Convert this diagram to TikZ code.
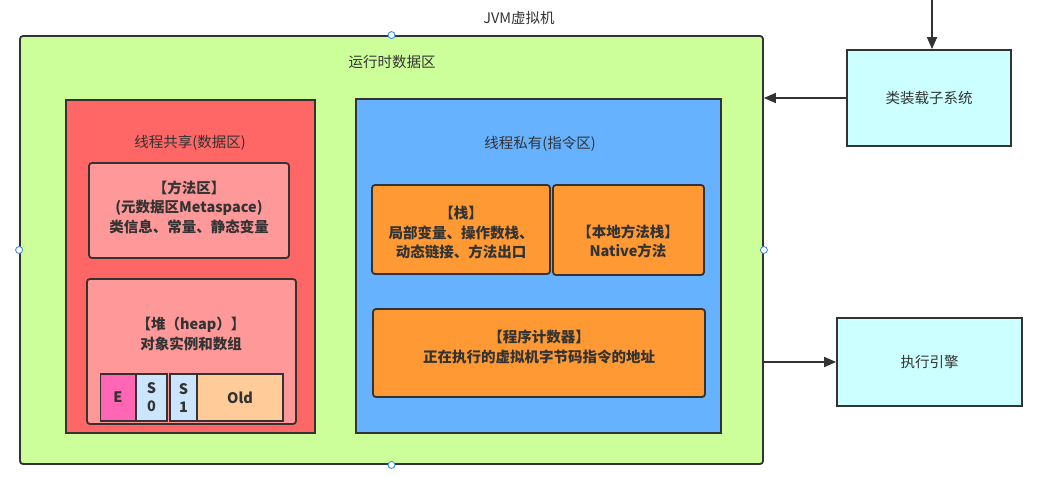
\documentclass[tikz,border=0pt]{standalone}
\usepackage{fontspec}
\setmainfont{Noto Sans CJK SC}
\usetikzlibrary{arrows.meta}
\definecolor{txt}{HTML}{333333}
\definecolor{edge}{HTML}{333333}
\definecolor{cgreen}{HTML}{CCFF99}
\definecolor{cred}{HTML}{FF6666}
\definecolor{clred}{HTML}{FF9999}
\definecolor{cblue}{HTML}{66B2FF}
\definecolor{corange}{HTML}{FF9933}
\definecolor{cpink}{HTML}{FF66B3}
\definecolor{csurv}{HTML}{CCE5FF}
\definecolor{cold}{HTML}{FFCC99}
\definecolor{ccyan}{HTML}{CCFFFF}
\definecolor{handle}{HTML}{3D8DDB}
\tikzset{
  box/.style={draw=edge, line width=1.8pt, rounded corners=3pt, inner sep=0pt},
  sqbox/.style={draw=edge, line width=1.8pt, inner sep=0pt},
  lbl/.style={text=txt, font=\fontsize{14.5}{19.5}\selectfont, align=center, inner sep=0pt},
  blbl/.style={lbl, font=\fontsize{14.5}{19.5}\selectfont\bfseries},
  conn/.style={draw=edge, line width=1.8pt, -{Triangle[length=12pt,width=10pt]}},
  hdl/.style={circle, draw=handle, fill=white, line width=0.9pt, minimum size=7pt, inner sep=0pt},
}
\begin{document}
\begin{tikzpicture}[x=1pt,y=-1pt]
\useasboundingbox (0,0) rectangle (1040,479);
\fill[white] (0,0) rectangle (1040,479);
% outer JVM
\node[lbl] (jvmt) at (519,18) {JVM虚拟机};
\node[box, fill=cgreen, minimum width=743pt, minimum height=428pt] (rt) at (391.5,250) {};
\node[lbl] (rtt) at (392,62) {运行时数据区};
% shared
\node[sqbox, fill=cred, minimum width=249pt, minimum height=333pt] (sh) at (190.5,266.5) {};
\node[lbl] (sht) at (190,143) {线程共享(数据区)};
\node[box, fill=clred, minimum width=200pt, minimum height=95pt] (ma) at (189,210.5) {};
\node[blbl] (mat) at (189,207) {【方法区】\\(元数据区Metaspace)\\类信息、常量、静态变量};
\node[box, fill=clred, minimum width=209pt, minimum height=145pt] (hp) at (191.5,351.5) {};
\node[blbl] (hpt) at (191,334) {【堆（heap）】\\对象实例和数组};
\node[sqbox, fill=cpink, minimum width=35pt, minimum height=47pt] (e) at (118,397.5) {};
\node[blbl] at (e) {E};
\node[sqbox, fill=csurv, minimum width=31pt, minimum height=47pt] (s0) at (151.5,397.5) {};
\node[blbl, font=\fontsize{14.5}{18}\selectfont\bfseries] at (s0) {S\\0};
\node[sqbox, fill=csurv, minimum width=27pt, minimum height=47pt] (s1) at (183.5,397.5) {};
\node[blbl, font=\fontsize{14.5}{18}\selectfont\bfseries] at (s1) {S\\1};
\node[sqbox, fill=cold, minimum width=86pt, minimum height=47pt] (old) at (240,397.5) {};
\node[blbl] at (old) {Old};
% private
\node[sqbox, fill=cblue, minimum width=365pt, minimum height=334pt] (pr) at (538.5,266) {};
\node[lbl] (prt) at (540,144) {线程私有(指令区)};
\node[box, fill=corange, minimum width=178pt, minimum height=89pt] (stk) at (461,229.5) {};
\node[blbl] (stkt) at (461,233) {【栈】\\局部变量、操作数栈、\\动态链接、方法出口};
\node[box, fill=corange, minimum width=151pt, minimum height=90pt] (nat) at (628.5,230) {};
\node[blbl] (natt) at (628,241.5) {【本地方法栈】\\Native方法};
\node[box, fill=corange, minimum width=332pt, minimum height=88pt] (pc) at (539,353) {};
\node[blbl] (pct) at (539,347) {【程序计数器】\\正在执行的虚拟机字节码指令的地址};
% right side
\node[sqbox, fill=ccyan, minimum width=164pt, minimum height=96pt] (cl) at (929,98) {};
\node[lbl] (clt) at (929,98) {类装载子系统};
\node[sqbox, fill=ccyan, minimum width=185pt, minimum height=88pt] (ee) at (929.5,362) {};
\node[lbl] (eet) at (929.5,362) {执行引擎};
\coordinate (topin) at (932,0);
\draw[conn] (topin) -- (cl.north -| topin);
\draw[conn] (cl.west) -- (rt.east |- cl.west);
\draw[conn] (rt.east |- ee.west) -- (ee.west);
% selection handles
\node[hdl] at (rt.north) {};
\node[hdl] at (rt.south) {};
\node[hdl] at (rt.west) {};
\node[hdl] at (rt.east) {};
\end{tikzpicture}
\end{document}
